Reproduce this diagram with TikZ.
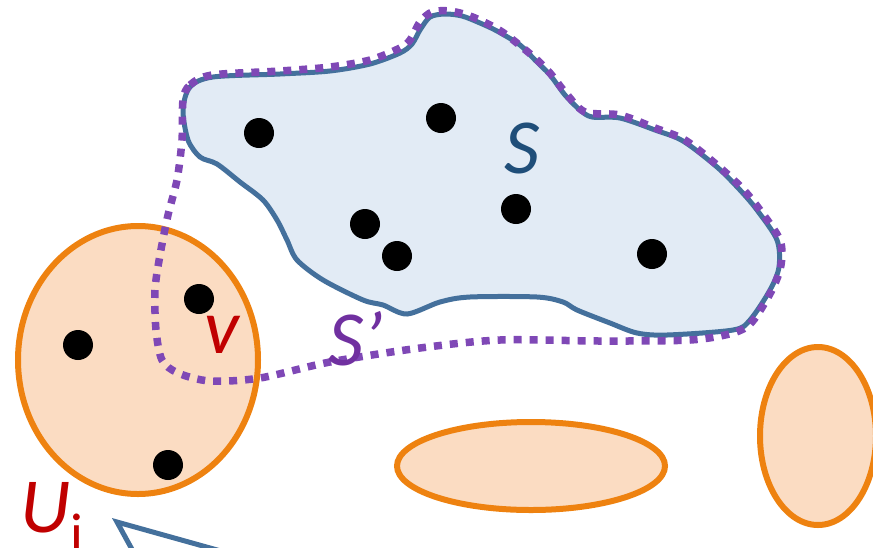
\documentclass[tikz,border=0pt]{standalone}
\usepackage{fontspec}
\setmainfont{Carlito}
\usetikzlibrary{shapes.geometric}
\definecolor{setline}{HTML}{44709C}
\definecolor{setfill}{HTML}{E2EBF5}
\definecolor{primeline}{HTML}{7F48B6}
\definecolor{primetext}{HTML}{7030A0}
\definecolor{stext}{HTML}{1F4E79}
\definecolor{redtext}{HTML}{C00000}
\definecolor{partline}{HTML}{EE8210}
\definecolor{partfill}{HTML}{FBDCC2}
\tikzset{
  vertex/.style={circle, fill=black, inner sep=0pt, minimum size=30pt},
  part/.style={ellipse, draw=partline, fill=partfill, line width=6pt, inner sep=0pt},
  setlabel/.style={font=\fontsize{78}{80}\selectfont\itshape, inner sep=0pt},
  primepath/.style={draw=primeline, line width=7.5pt, dash pattern=on 8pt off 8pt},
}
\begin{document}
\begin{tikzpicture}[x=1pt, y=-1pt]
\useasboundingbox (0,0) rectangle (873,547);

% the set S
\path[draw=setline, fill=setfill, line width=5pt]
  plot[smooth cycle, tension=0.5] coordinates {
  (190,87) (213,77) (280,74) (330,71) (370,64) (400,53) (412,44) (420,30)
  (430,17) (445,14) (462,16) (480,23) (497,31) (520,45) (535,60) (550,75)
  (565,95) (580,110) (592,117) (620,118) (655,130) (683,141) (717,167)
  (740,190) (757,210) (777,240) (779,267) (770,290) (750,320) (733,330)
  (667,335) (637,333) (610,323) (577,310) (563,302) (537,297) (470,297)
  (440,302) (407,314) (383,305) (363,300) (323,280) (297,260) (287,240)
  (277,220) (263,200) (240,182) (217,164) (200,157) (188,140) (183,110)};

% partition classes
\node[part, minimum width=240pt, minimum height=268pt] (Ui) at (138,360) {};
\node[part, minimum width=268pt, minimum height=88pt] (U2) at (531,466) {};
\node[part, minimum width=116pt, minimum height=178pt] (U3) at (818,436) {};

% the enlarged set S'
\path[primepath]
  plot[smooth cycle, tension=0.5] coordinates {
  (183,100) (190,85) (212,75) (280,71) (330,67) (370,60) (400,48) (410,40)
  (420,22) (432,12) (450,11) (470,16) (492,26) (508,36) (535,58) (550,73)
  (565,92) (585,112) (620,115) (655,128) (685,140) (717,165) (742,188)
  (760,210) (780,240) (781,265) (772,290) (752,322) (733,333) (690,340)
  (600,341) (500,340) (420,348) (330,362) (260,378) (210,381) (178,373)
  (162,360) (156,330) (155,290) (160,255) (168,215) (177,180) (182,140)};

% vertices
\node[vertex] (a) at (259,133) {};
\node[vertex] (b) at (441,118) {};
\node[vertex] (c) at (516,209) {};
\node[vertex] (d) at (365,224) {};
\node[vertex] (e) at (397,256) {};
\node[vertex] (f) at (652,254) {};
\node[vertex] (v) at (199,299) {};
\node[vertex] (g) at (78,345) {};
\node[vertex] (h) at (168,465) {};

% labels
\node[setlabel, text=stext] (lS) at (522,148) {S};
\node[setlabel, text=primetext] (lSp) at (356,339) {S’};
\node[setlabel, text=redtext] (lv) at (222,335) {v};
\node[setlabel, text=redtext, anchor=base west] (lU) at (20,532)
  {U\raisebox{-0.26em}{\upshape\fontsize{56}{56}\selectfont i}};

% pointer arrowhead
\coordinate (p1) at (134,553);
\coordinate (tip) at (117,522);
\coordinate (p2) at (228,553);
\draw[setline, line width=5pt, line join=miter] (p1) -- (tip) -- (p2);
\end{tikzpicture}
\end{document}
